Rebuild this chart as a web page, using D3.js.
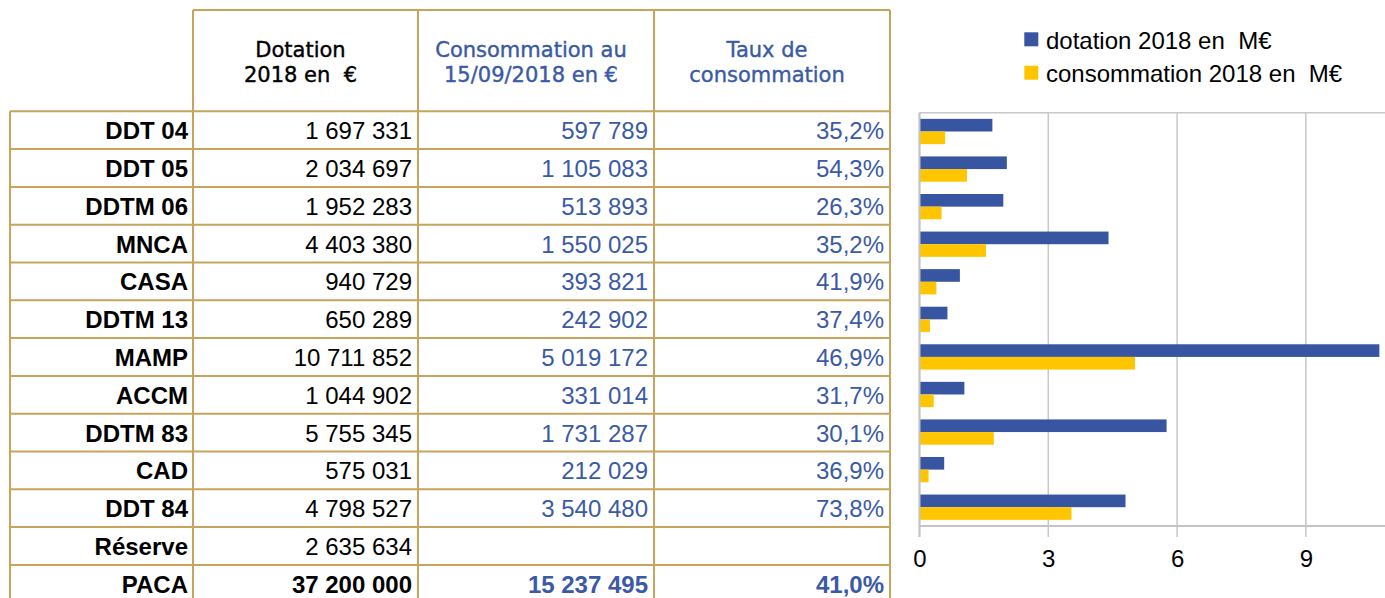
<!DOCTYPE html>
<html>
<head>
<meta charset="utf-8">
<script src="https://cdn.jsdelivr.net/npm/d3@7"></script>
<style>
  body { margin: 0; background: #fff; }
  svg { display: block; }
</style>
</head>
<body>
<svg id="chart"></svg>
<script>
// data
var categories = ["DDT 04", "DDT 05", "DDTM 06", "MNCA", "CASA", "DDTM 13", "MAMP", "ACCM", "DDTM 83", "CAD", "DDT 84"];
var dotation = [1697331, 2034697, 1952283, 4403380, 940729, 650289, 10711852, 1044902, 5755345, 575031, 4798527];
var consommation = [597789, 1105083, 513893, 1550025, 393821, 242902, 5019172, 331014, 1731287, 212029, 3540480];
var taux = [35.2, 54.3, 26.3, 35.2, 41.9, 37.4, 46.9, 31.7, 30.1, 36.9, 73.8];
var reserveDotation = 2635634;
var totalDotation = 37200000, totalConso = 15237495, totalTaux = 41.0;
var headers = [["Dotation", "2018 en  €"], ["Consommation au", "15/09/2018 en €"], ["Taux de", "consommation"]];
var seriesNames = ["dotation 2018 en  M€", "consommation 2018 en  M€"];
var xTicks = [0, 3, 6, 9];

var W = 1385, H = 598;
var gold = "#c8a35c", blue = "#3b5aa6", barBlue = "#3755a0", barYellow = "#ffc600";

var fr = d3.formatLocale({decimal: ",", thousands: " ", grouping: [3], currency: ["", "€"]});
var fmtNum = fr.format(",d"), fmtPct = fr.format(".1f");

var svg = d3.select("#chart").attr("width", W).attr("height", H);

// ---- table ----
var colX = [10, 193, 418, 654, 890];
var headTop = 10, headBottom = 111.3, rowH = 37.8;

var rows = categories.map(function(c, i) {
  return {label: c, dot: fmtNum(dotation[i]), cons: fmtNum(consommation[i]), pct: fmtPct(taux[i]) + "%", bold: false};
});
rows.push({label: "Réserve", dot: fmtNum(reserveDotation), cons: "", pct: "", bold: false});
rows.push({label: "PACA", dot: fmtNum(totalDotation), cons: fmtNum(totalConso), pct: fmtPct(totalTaux) + "%", bold: true});

var table = svg.append("g");

// header texts
headers.forEach(function(h, j) {
  var cx = (colX[j + 1] + colX[j + 2]) / 2 - 5;
  h.forEach(function(line, k) {
    table.append("text")
      .attr("x", cx)
      .attr("y", 56.7 + k * 25)
      .attr("text-anchor", "middle")
      .style("font-family", "DejaVu Sans")
      .style("font-size", "21px")
      .style("white-space", "pre")
      .attr("fill", j == 0 ? "#000" : blue)
      .attr("stroke", j == 0 ? "#000" : blue)
      .attr("stroke-width", 0.4)
      .text(line);
  });
});

var rowG = table.selectAll("g.row")
  .data(rows)
  .enter().append("g")
  .attr("class", "row")
  .attr("transform", function(d, i) { return "translate(0," + (headBottom + i * rowH) + ")"; });

var cols = [
  {key: "label", x: colX[1] - 5, color: "#000", weight: "bold"},
  {key: "dot", x: colX[2] - 6, color: "#000"},
  {key: "cons", x: colX[3] - 6, color: blue},
  {key: "pct", x: colX[4] - 6, color: blue}
];
cols.forEach(function(c) {
  rowG.append("text")
    .attr("x", c.x)
    .attr("y", rowH / 2 + 9)
    .attr("text-anchor", "end")
    .style("font-family", "Liberation Sans")
    .style("font-size", "24px")
    .style("font-weight", function(d) { return (c.weight || d.bold) ? "bold" : "normal"; })
    .attr("fill", c.color)
    .text(function(d) { return d[c.key]; });
});

// table borders
table.append("line").attr("x1", colX[1]).attr("x2", colX[4]).attr("y1", headTop).attr("y2", headTop);
d3.range(rows.length).forEach(function(i) {
  table.append("line").attr("x1", colX[0]).attr("x2", colX[4])
    .attr("y1", headBottom + i * rowH).attr("y2", headBottom + i * rowH);
});
colX.forEach(function(x, j) {
  table.append("line").attr("x1", x).attr("x2", x)
    .attr("y1", j == 0 ? headBottom : headTop).attr("y2", H);
});
table.selectAll("line").attr("stroke", gold).attr("stroke-width", 2);

// ---- bar chart ----
var x = d3.scaleLinear().domain([0, 12]).range([919.5, 919.5 + 12 * 42.93]);
var y = d3.scaleBand().domain(categories).range([112.7, 526]).paddingInner(0.327).paddingOuter(0.164);
var ySub = d3.scaleBand().domain([0, 1]).range([0, y.bandwidth()]);

var chart = svg.append("g");

chart.selectAll("line.grid")
  .data(xTicks)
  .enter().append("line")
  .attr("class", "grid")
  .attr("x1", function(d) { return x(d); })
  .attr("x2", function(d) { return x(d); })
  .attr("y1", 112.7)
  .attr("y2", 537)
  .attr("stroke", "#c8c8c8")
  .attr("stroke-width", 1.5);

chart.append("line").attr("x1", x(0)).attr("x2", x(12)).attr("y1", 112.7).attr("y2", 112.7)
  .attr("stroke", "#c8c8c8").attr("stroke-width", 1.5);
chart.append("line").attr("x1", x(0)).attr("x2", x(12)).attr("y1", 526).attr("y2", 526)
  .attr("stroke", "#c4c4c4").attr("stroke-width", 2);

var series = [dotation, consommation];
var colors = [barBlue, barYellow];
series.forEach(function(vals, s) {
  chart.selectAll("rect.s" + s)
    .data(vals)
    .enter().append("rect")
    .attr("class", "s" + s)
    .attr("x", x(0))
    .attr("y", function(d, i) { return y(categories[i]) + ySub(s); })
    .attr("width", function(d) { return x(d / 1e6) - x(0); })
    .attr("height", ySub.bandwidth())
    .attr("fill", colors[s]);
});

chart.append("line").attr("x1", x(0)).attr("x2", x(0)).attr("y1", 112.7).attr("y2", 537)
  .attr("stroke", "#c4c4c4").attr("stroke-width", 2);

var xAxis = d3.axisBottom(x).tickValues(xTicks).tickSize(0).tickPadding(0);
var ax = chart.append("g").attr("transform", "translate(0,567)").call(xAxis);
ax.select(".domain").remove();
ax.selectAll("text")
  .attr("y", 0)
  .attr("dy", 0)
  .style("font-family", "Liberation Sans")
  .style("font-size", "24px")
  .attr("fill", "#000");

// legend
var legend = chart.selectAll("g.legend")
  .data(seriesNames)
  .enter().append("g")
  .attr("class", "legend")
  .attr("transform", function(d, i) { return "translate(1024.3," + (32.3 + i * 33.4) + ")"; });
legend.append("rect").attr("width", 14).attr("height", 14).attr("fill", function(d, i) { return colors[i]; });
legend.append("text")
  .attr("x", 21.7)
  .attr("y", 16.7)
  .style("font-family", "Liberation Sans")
  .style("font-size", "24px")
  .style("white-space", "pre")
  .attr("fill", "#000")
  .text(function(d) { return d; });
</script>
</body>
</html>
